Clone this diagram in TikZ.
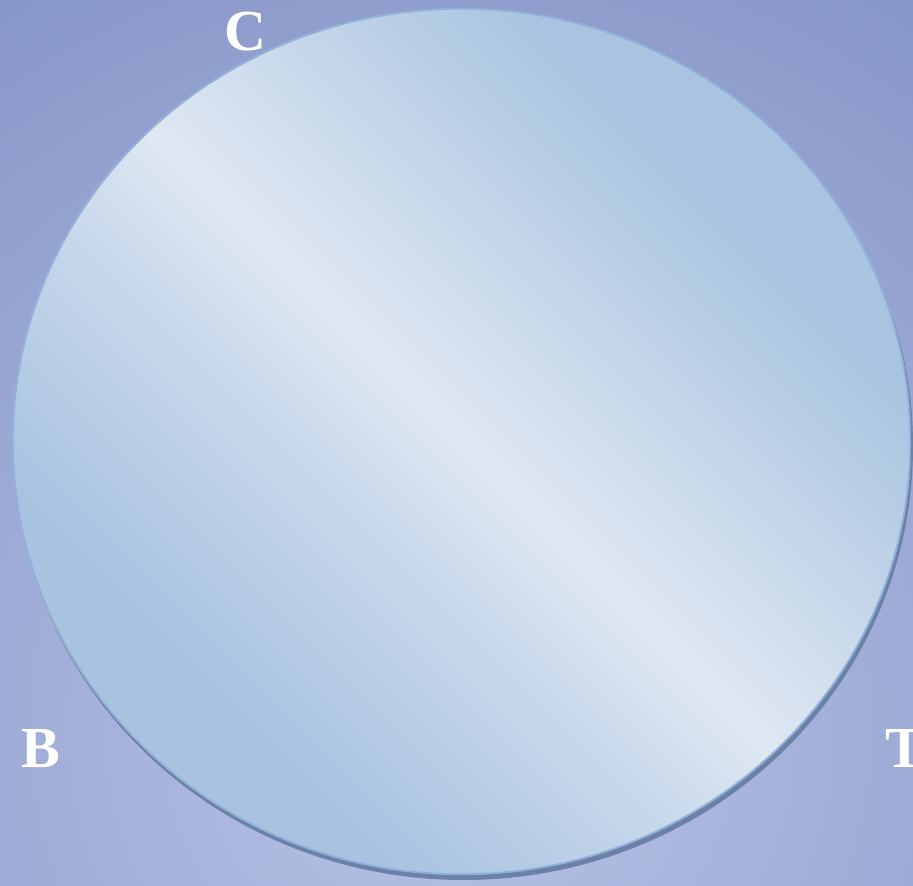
\documentclass[tikz,border=0pt]{standalone}
\usepackage{fontspec}
\setmainfont{Liberation Serif}
\usetikzlibrary{shadings}
\definecolor{bginner}{HTML}{BAC4E7}
\definecolor{bgouter}{HTML}{8595C7}
\definecolor{glassA}{HTML}{A8C2E0}
\definecolor{glassB}{HTML}{CBDAEC}
\definecolor{glassBand}{HTML}{DFE8F2}
\definecolor{glassC}{HTML}{CFDDED}
\definecolor{glassD}{HTML}{A9C3E0}
\definecolor{rimcol}{HTML}{8DB0D8}
\definecolor{shadowcol}{HTML}{6C81A8}
\pgfdeclareverticalshading{glass}{100bp}{color(0bp)=(glassA); color(30bp)=(glassA); color(44bp)=(glassB); color(50bp)=(glassBand); color(56bp)=(glassC); color(70bp)=(glassD); color(100bp)=(glassD)}
\tikzset{
  lbl/.style={text=white, font=\fontsize{58}{60}\selectfont\bfseries, anchor=base, inner sep=0pt},
}
\begin{document}
\begin{tikzpicture}[x=1pt,y=1pt]
\useasboundingbox (0,0) rectangle (913,886);
\begin{scope}
  \clip (0,0) rectangle (913,886);
  \shade[inner color=bginner, outer color=bgouter] (450,160) circle (880);
\end{scope}
% shadow
\fill[shadowcol] (463.5,439.5) ellipse [x radius=449.5, y radius=433.5];
% glass disc
\shade[shading=glass, shading angle=-45] (461.5,444.5) ellipse [x radius=449.5, y radius=433.5];
\draw[rimcol, line width=1.6pt] (461.5,444.5) ellipse [x radius=448.7, y radius=432.7];
\node[lbl] (c) at (245,835) {C};
\node[lbl] (b) at (41,118) {B};
\node[lbl] (t) at (905,118) {T};
\end{tikzpicture}
\end{document}
